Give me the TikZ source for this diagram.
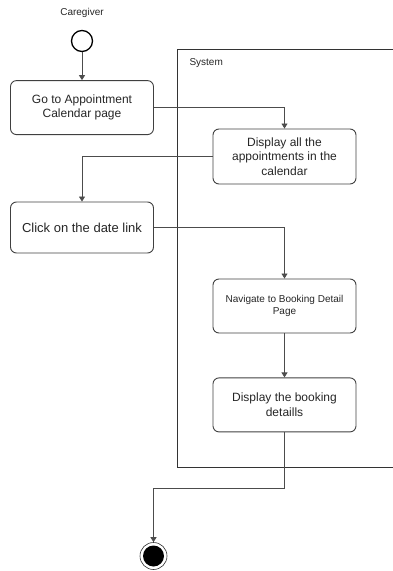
\documentclass[tikz,border=0pt]{standalone}
\usepackage{fontspec}
\setmainfont{Liberation Sans}
\usetikzlibrary{positioning, arrows.meta}

\begin{document}
\begin{tikzpicture}[
    x=1pt, y=-1pt,
    node distance=28pt,
    act/.style={draw=black!75, line width=0.9pt, rounded corners=6pt, align=center, minimum width=143pt, minimum height=54pt, inner sep=2pt, font=\fontsize{12}{14.5}\selectfont, text=black!85},
    initial/.style={circle, draw=black, line width=1.3pt, minimum size=21pt, inner sep=0pt},
    final/.style={circle, draw=black!80, line width=0.6pt, minimum size=27pt, inner sep=0pt,
        path picture={\fill[black] (path picture bounding box.center) circle (10.5pt);}},
    lane/.style={draw=black!80, line width=0.8pt},
    lbl/.style={font=\fontsize{10}{12}\selectfont, text=black!85},
    arrow/.style={-{Triangle[length=5pt, width=6pt]}, draw=black!70, line width=0.8pt},
]
\useasboundingbox (0,0) rectangle (393,571);

% System partition, open on the right
\draw[lane] (393,49) -- (177,49) -- (177,467) -- (393,467);
\node[lbl, anchor=west] (system) at (186,63) {System};
\node[lbl] (caregiver) at (82,13) {Caregiver};

% Activities
\node[initial] (start) at (82,41) {};
\node[act, below=28pt of start] (go) {Go to Appointment\\Calendar page};
\node[act, minimum height=55pt] (disp) at (284.5,156.5) {Display all the\\appointments in the\\calendar};
\node[act, minimum height=51pt, font=\fontsize{13}{15}\selectfont] (click) at (82,227.5) {Click on the date link};
\node[act, font=\fontsize{10}{12.5}\selectfont] (nav) at (284.5,306) {Navigate to Booking Detail\\Page};
\node[act, below=44pt of nav] (det) {Display the booking\\detaills};
\node[final] (stop) at (153.5,556) {};

% Flow
\draw[arrow] (start) -- (go);
\draw[arrow] (go.east) -| (disp.north);
\draw[arrow] (disp.west) -| (click.north);
\draw[arrow] (click.east) -| (nav.north);
\draw[arrow] (nav) -- (det);
\draw[arrow] (det.south) -- ++(0,56) -| (stop.north);

\end{tikzpicture}
\end{document}
